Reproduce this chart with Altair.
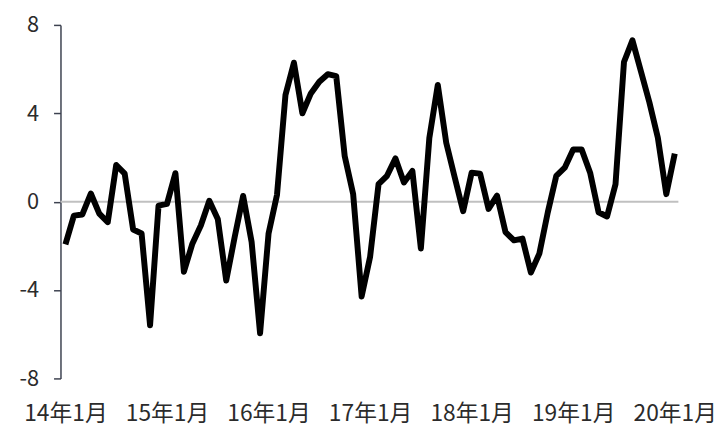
import altair as alt
import pandas as pd

# Monthly values, 2014-01 .. 2020-01
values = [
    -1.93, -0.63, -0.58, 0.37, -0.54, -0.93, 1.66, 1.27, -1.26, -1.44, -5.59, -0.18,
    -0.10, 1.29, -3.17, -1.90, -1.08, 0.04, -0.78, -3.57, -1.60, 0.26, -1.82, -5.96,
    -1.45, 0.31, 4.83, 6.29, 4.00, 4.90, 5.43, 5.77, 5.68, 2.06, 0.34, -4.29,
    -2.50, 0.79, 1.17, 1.96, 0.87, 1.39, -2.12, 2.88, 5.28, 2.66, 1.10, -0.43,
    1.31, 1.27, -0.33, 0.27, -1.38, -1.75, -1.67, -3.21, -2.35, -0.48, 1.17, 1.54,
    2.36, 2.36, 1.31, -0.48, -0.67, 0.79, 6.32, 7.30, 5.90, 4.50, 2.90, 0.34,
    2.17,
]
tick_labels = ["14年1月", "15年1月", "16年1月", "17年1月", "18年1月", "19年1月", "20年1月"]
y_ticks = [-8, -4, 0, 4, 8]

df = pd.DataFrame({"idx": list(range(len(values))), "value": values})

font = "Noto Sans CJK SC"
label_js = "[" + ",".join("'" + t + "'" for t in tick_labels) + "]"

x_enc = alt.X(
    "idx:Q",
    scale=alt.Scale(domain=[-0.585, 72.43], nice=False, zero=False),
    axis=alt.Axis(
        values=[0, 12, 24, 36, 48, 60, 72],
        labelExpr=label_js + "[round(datum.value / 12)]",
        domain=False, ticks=False, grid=False, title=None,
        labelFont=font, labelFontSize=23, labelColor="#2b2b2b",
        labelPadding=24, labelFlush=False, labelOverlap=False,
    ),
)
y_axis = alt.Axis(
    values=y_ticks, grid=False, title=None,
    labelExpr="'' + datum.value",
    domainColor="#3d4250", domainWidth=1.5,
    tickColor="#3d4250", tickWidth=1.5, tickSize=7,
    labelFont=font, labelFontSize=22, labelColor="#2b2b2b",
    labelPadding=15,
)
y_scale = alt.Scale(domain=[-8, 8], nice=False)

zero = alt.Chart(pd.DataFrame({"z": [0]})).mark_rule(color="#c0c0c0", strokeWidth=2).encode(
    y=alt.Y("z:Q", scale=y_scale, axis=y_axis)
)

line = alt.Chart(df).mark_line(
    color="#000000", strokeWidth=6, strokeJoin="round", strokeCap="butt"
).encode(x=x_enc, y=alt.Y("value:Q", scale=y_scale, axis=y_axis))

chart = (
    alt.layer(zero, line)
    .properties(
        width=624, height=357,
        autosize=alt.AutoSizeParams(type="none"),
        padding={"left": 53, "top": 15, "right": 40, "bottom": 49},
        view=alt.ViewBackground(strokeWidth=0, strokeOpacity=0, stroke="transparent"),
    )
    .configure_view(stroke="transparent", strokeWidth=0, strokeOpacity=0)
    .configure_axis(grid=False)
    .configure(background="white")
)

chart.save("out.html", embed_options={"renderer": "svg", "actions": False})
